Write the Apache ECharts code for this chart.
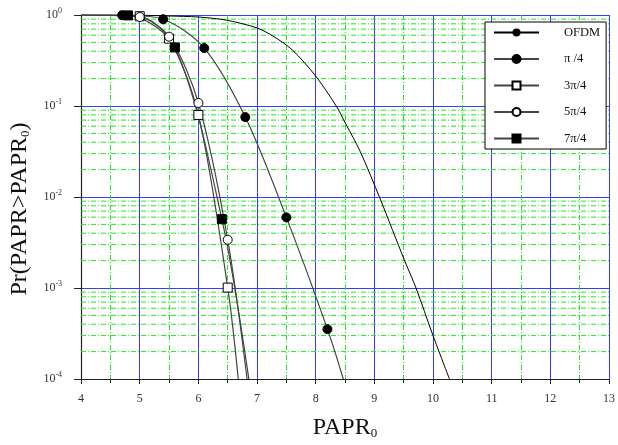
<!DOCTYPE html>
<html>
<head>
<meta charset="utf-8">
<script src="https://cdn.jsdelivr.net/npm/echarts@6/dist/echarts.min.js"></script>
<style>
html, body { margin: 0; padding: 0; background: #fff; }
#chart { width: 618px; height: 445px; }
</style>
</head>
<body>
<div id="chart"></div>
<script>
// CCDF of PAPR: [PAPR0, Pr(PAPR>PAPR0)]
const ofdmData = [[4, 1], [5, 0.995], [5.5, 0.975], [6, 0.95], [6.48, 0.877], [7, 0.72], [7.27, 0.587],
    [7.6, 0.414], [8, 0.213], [8.35, 0.1], [8.51, 0.064], [8.76, 0.0315], [9.1, 0.0095],
    [9.51, 0.00204], [9.71, 0.001], [10, 0.0003], [10.28, 0.0001]];
const pi4Data = [[4, 1], [4.7, 0.995], [5.4, 0.898], [6.1, 0.433], [6.8, 0.0755], [7.5, 0.00597],
    [8.2, 0.000353], [8.47, 0.0001]];
const pi4Marks = [4.7, 5.4, 6.1, 6.8, 7.5, 8.2];
const pi34Data = [[4, 1], [4.5, 1], [5, 0.97], [5.5, 0.55], [6, 0.0797], [6.5, 0.00101], [6.68, 0.0001]];
const pi34Marks = [5, 5.5, 6, 6.5];
const pi54Data = [[4, 1], [4.5, 0.99], [5, 0.95], [5.5, 0.578], [6, 0.108], [6.5, 0.00339], [6.83, 0.0001]];
const pi54Marks = [5, 5.5, 6, 6.5];
const pi74Data = [[4, 1], [4.8, 0.99], [5.6, 0.44], [6.4, 0.00571], [6.86, 0.0001]];
const pi74Marks = [4.8, 5.6, 6.4];

const yMinorVals = [];
[1e-4, 1e-3, 1e-2, 1e-1].forEach(d => {
    for (let k = 2; k <= 9; k++) {
        yMinorVals.push(+(d * k).toPrecision(3));
    }
});

const serif = 'Liberation Serif';
const blue = '#3a3aff';
const green = '#1ee81e';

function withMarks(data, marks) {
    return data.map(p => marks.indexOf(p[0]) >= 0 ? p : {value: p, symbol: 'none'});
}

function curve(name, data, marks, symbol, fill) {
    return {
        name: name,
        type: 'line',
        data: withMarks(data, marks),
        smooth: 0.3,
        symbol: symbol,
        symbolSize: 9,
        showAllSymbol: true,
        lineStyle: {color: '#444', width: 1.2},
        itemStyle: {color: fill, borderColor: '#000', borderWidth: 1},
        emphasis: {disabled: true},
        z: 3
    };
}

// minor horizontal grid: one broken line series, segments split by '-'
const minorGrid = [];
yMinorVals.forEach(v => {
    minorGrid.push([4, v], [13, v], '-');
});

const chart = echarts.init(document.getElementById('chart'));

chart.setOption({
    animation: false,
    backgroundColor: '#fff',
    grid: {left: 74, right: 4, top: 15, bottom: 61},
    legend: {
        orient: 'vertical',
        left: 485,
        top: 22,
        padding: [4, 6, 4, 8],
        itemGap: 13.5,
        itemWidth: 45,
        itemHeight: 10,
        backgroundColor: '#fff',
        borderColor: '#000',
        borderWidth: 1,
        textStyle: {fontFamily: serif, fontSize: 12.5, color: '#111', padding: [0, 0, 0, 20], width: 38},
        data: ['OFDM', 'π /4', '3π/4', '5π/4', '7π/4']
    },
    xAxis: {
        type: 'value',
        min: 4,
        max: 13,
        interval: 1,
        name: '{a|PAPR}{s|0}',
        nameLocation: 'middle',
        nameGap: 36,
        nameTextStyle: {
            rich: {
                a: {fontFamily: serif, fontSize: 24, color: '#111'},
                s: {fontFamily: serif, fontSize: 13, color: '#111', padding: [12, 0, 0, 0]}
            }
        },
        axisLine: {lineStyle: {color: '#222', width: 1.2}},
        axisTick: {length: 5, lineStyle: {color: '#222'}},
        minorTick: {show: true, splitNumber: 2, length: 4, lineStyle: {color: '#222'}},
        axisLabel: {fontFamily: serif, fontSize: 12, color: '#333', margin: 14},
        splitLine: {show: true, lineStyle: {color: blue, width: 1}},
        minorSplitLine: {show: true, lineStyle: {color: green, width: 1, type: [5, 2, 1, 2]}}
    },
    yAxis: {
        type: 'log',
        logBase: 10,
        min: 0.0001,
        max: 1,
        name: '{a|Pr(PAPR>PAPR}{s|0}{a|)}',
        nameLocation: 'middle',
        nameGap: 48,
        nameTextStyle: {
            padding: [0, 24, 0, 0],
            rich: {
                a: {fontFamily: serif, fontSize: 24, color: '#111'},
                s: {fontFamily: serif, fontSize: 13, color: '#111', padding: [12, 0, 0, 0]}
            }
        },
        axisLine: {show: true, lineStyle: {color: '#222', width: 1.2}},
        axisTick: {show: true, length: 7, lineStyle: {color: '#222'}},
        axisLabel: {
            margin: 19,
            formatter: v => '{b|10}{s|' + Math.round(Math.log10(v)) + '}',
            rich: {
                b: {fontFamily: serif, fontSize: 12, color: '#333'},
                s: {fontFamily: serif, fontSize: 8, color: '#333', padding: [0, 0, 8, 0]}
            }
        },
        splitLine: {show: true, lineStyle: {color: blue, width: 1}}
    },
    series: [
        {
            name: 'minor',
            type: 'line',
            data: minorGrid,
            symbol: 'none',
            silent: true,
            lineStyle: {color: green, width: 1, type: [5, 2, 1, 2]},
            emphasis: {disabled: true},
            z: 1
        },
        {
            name: 'OFDM',
            type: 'line',
            data: ofdmData,
            smooth: 0.3,
            symbol: 'none',
            lineStyle: {color: '#000', width: 1},
            itemStyle: {color: '#000'},
            emphasis: {disabled: true},
            z: 3
        },
        curve('π /4', pi4Data, pi4Marks, 'circle', '#000'),
        curve('3π/4', pi34Data, pi34Marks, 'rect', '#fff'),
        curve('5π/4', pi54Data, pi54Marks, 'circle', '#fff'),
        curve('7π/4', pi74Data, pi74Marks, 'rect', '#000')
    ]
});
</script>
</body>
</html>
